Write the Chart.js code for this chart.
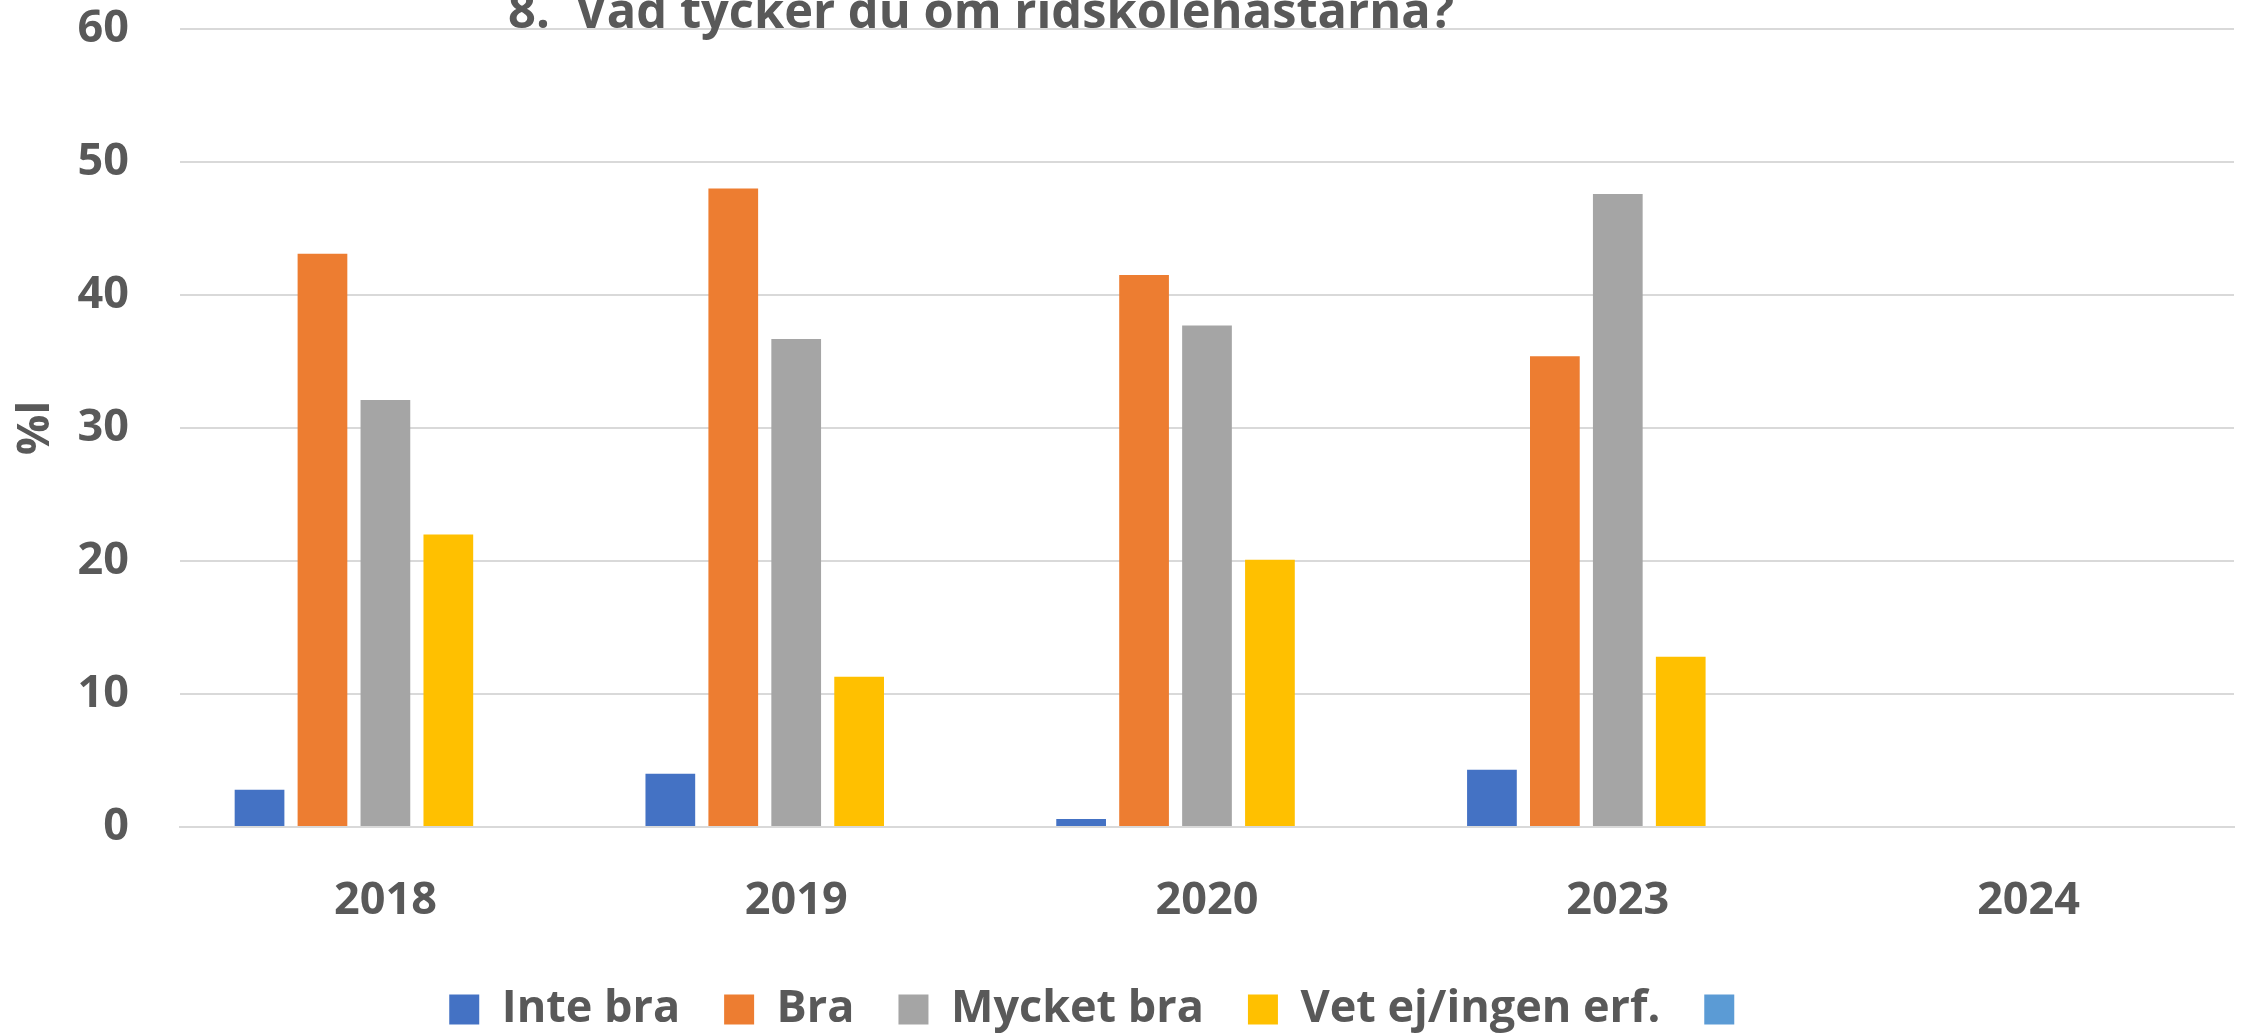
<!DOCTYPE html>
<html>
<head>
<meta charset="utf-8">
<script src="https://cdn.jsdelivr.net/npm/chart.js@4.4.0/dist/chart.umd.min.js"></script>
<style>
  html, body { margin: 0; padding: 0; background: #fff; overflow: hidden; }
  /* canvas pushed up a little: the title is cut off at the top in the picture */
  #wrap { width: 2246px; height: 1091px; position: absolute; left: 0; top: -49px; }
</style>
</head>
<body>
<div id="wrap"><canvas id="chart"></canvas></div>
<script>
// data (percent)
const years = ['2018', '2019', '2020', '2023', '2024'];
const inteBra = [2.8, 4.0, 0.6, 4.3, null];
const bra = [43.1, 48.0, 41.5, 35.4, null];
const mycketBra = [32.1, 36.7, 37.7, 47.6, null];
const vetEj = [22.0, 11.3, 20.1, 12.8, null];
const tom = [null, null, null, null, null];

const seriesNames = ['Inte bra', 'Bra', 'Mycket bra', 'Vet ej/ingen erf.', ''];
const seriesColors = ['#4472C4', '#ED7D31', '#A5A5A5', '#FFC000', '#5B9BD5'];
const seriesData = [inteBra, bra, mycketBra, vetEj, tom];

const titleText = '8.  Vad tycker du om ridskolehästarna?';
const textColor = '#595959';
const fontFamily = '"Open Sans", sans-serif';

// title drawn by hand so it can sit half outside the picture
const cutTitle = {
    id: 'cutTitle',
    afterLayout(chart) {
        // nudge legend a bit left, like the original
        chart.legend.left -= 14;
        chart.legend.right -= 14;
    },
    afterDraw(chart) {
        const ctx = chart.ctx;
        ctx.save();
        ctx.font = 'bold 50px ' + fontFamily;
        ctx.fillStyle = textColor;
        const w = ctx.measureText(titleText).width;
        ctx.translate(508, 14 + 49);
        ctx.scale(946 / w, 1);
        ctx.fillText(titleText, 0, 0);
        ctx.restore();
    }
};

const ctx = document.getElementById('chart').getContext('2d');

new Chart(ctx, {
    type: 'bar',
    data: {
        labels: years,
        datasets: seriesData.map((d, i) => ({
            label: seriesNames[i],
            data: d,
            backgroundColor: seriesColors[i],
            borderWidth: 0,
            categoryPercentage: 0.766,
            barPercentage: 0.79
        }))
    },
    options: {
        responsive: true,
        maintainAspectRatio: false,
        animation: false,
        layout: { padding: { top: 29, right: 12, left: 0, bottom: 0 } },
        plugins: {
            tooltip: { enabled: false },
            legend: {
                position: 'bottom',
                labels: {
                    boxWidth: 30,
                    boxHeight: 30,
                    padding: 44,
                    color: textColor,
                    font: { family: fontFamily, size: 45, weight: 'bold' }
                }
            }
        },
        scales: {
            x: {
                afterFit(scale) { scale.height = 116; },
                grid: { display: false, drawTicks: false },
                border: { display: true, color: '#D9D9D9', width: 2 },
                ticks: {
                    padding: 47,
                    color: textColor,
                    font: { family: fontFamily, size: 45, weight: 'bold' }
                }
            },
            y: {
                min: 0,
                max: 60,
                afterFit(scale) { scale.width = 180; },
                grid: { color: '#D9D9D9', lineWidth: 2, drawTicks: false },
                border: { display: false },
                ticks: {
                    stepSize: 10,
                    padding: 51,
                    color: textColor,
                    font: { family: fontFamily, size: 45, weight: 'bold' }
                },
                title: {
                    display: true,
                    text: '%l',
                    color: textColor,
                    padding: { top: 9, bottom: 0 },
                    font: { family: fontFamily, size: 45, weight: 'bold' }
                }
            }
        }
    },
    plugins: [cutTitle]
});
</script>
</body>
</html>
